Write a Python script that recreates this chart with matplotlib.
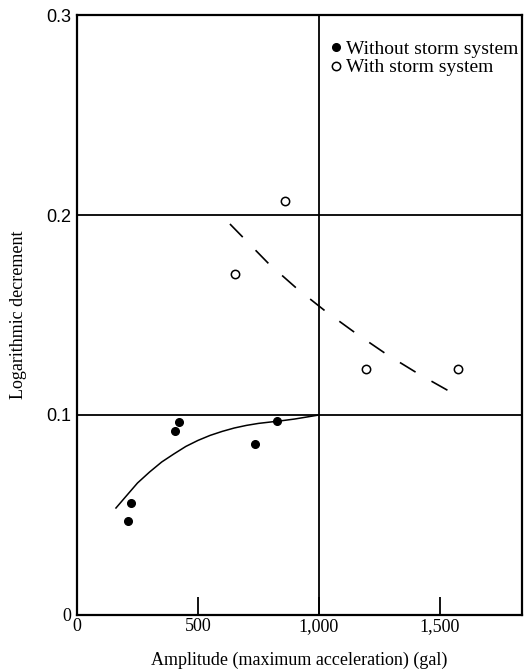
import matplotlib.pyplot as plt

# values
without_x = [211, 223, 405, 421, 736, 826]
without_y = [0.047, 0.056, 0.092, 0.0965, 0.0855, 0.097]

with_x = [653, 860, 1194, 1574]
with_y = [0.1705, 0.207, 0.123, 0.123]

# hand-drawn trend curves
solid_x = [161, 200, 250, 300, 350, 400, 450, 500, 550, 600, 650, 700, 750, 800, 850, 900, 950, 1000]
solid_y = [0.0535, 0.059, 0.066, 0.0715, 0.0765, 0.0805, 0.0843, 0.0873, 0.0898, 0.0918, 0.0935,
           0.0948, 0.0958, 0.0965, 0.0972, 0.098, 0.099, 0.100]

dashed_x = [632, 791, 908, 1029, 1153, 1280, 1412, 1544]
dashed_y = [0.1955, 0.1758, 0.1633, 0.1517, 0.1408, 0.1303, 0.1205, 0.1115]

xticks = [0, 500, 1000, 1500]
xtick_labels = ["0", "500", "1,000", "1,500"]
yticks = [0, 0.1, 0.2, 0.3]
ytick_labels = ["0", "0.1", "0.2", "0.3"]


def main():
    plt.rcParams['font.family'] = ['Liberation Serif', 'DejaVu Serif']
    fig = plt.figure(figsize=(5.26, 6.70), dpi=100)
    ax = fig.add_axes([0.1464, 0.0821, 0.846, 0.8955])

    ax.set_xlim(0, 1839)
    ax.set_ylim(0, 0.3)

    # grid lines of the original drawing
    ax.axhline(0.1, color='black', lw=1.3)
    ax.axhline(0.2, color='black', lw=1.3)
    ax.axvline(1000, color='black', lw=1.3)

    ax.plot(solid_x, solid_y, color='black', lw=1.1)
    ax.plot(dashed_x, dashed_y, color='black', lw=1.2, dashes=(11, 11))

    ax.plot(without_x, without_y, 'o', color='black', markersize=5.5,
            label='Without storm system')
    ax.plot(with_x, with_y, 'o', markerfacecolor='white', markeredgecolor='black',
            markeredgewidth=1.1, markersize=6, label='With storm system')

    ax.legend(loc='upper left', bbox_to_anchor=(0.57, 0.958), frameon=False,
              fontsize=14, handlelength=0.6, handletextpad=0.2,
              labelspacing=0.05, borderpad=0, borderaxespad=0)

    for s in ax.spines.values():
        s.set_linewidth(1.6)

    ax.set_xticks(xticks)
    ax.set_xticklabels(xtick_labels, fontsize=13)
    ax.set_yticks(yticks)
    ax.set_yticklabels(ytick_labels, fontsize=13)
    ax.tick_params(axis='x', direction='in', length=13, width=1.3, pad=2)
    ax.tick_params(axis='y', length=0, pad=4)
    for lab in ax.get_yticklabels()[1:]:
        lab.set_family(['Liberation Sans', 'DejaVu Sans'])

    ax.set_xlabel('Amplitude (maximum acceleration) (gal)', fontsize=13, labelpad=12)
    ax.set_ylabel('Logarithmic decrement', fontsize=13, labelpad=14)

    fig.savefig('out.png', dpi=100)
    return 0


if __name__ == "__main__":
    main()
